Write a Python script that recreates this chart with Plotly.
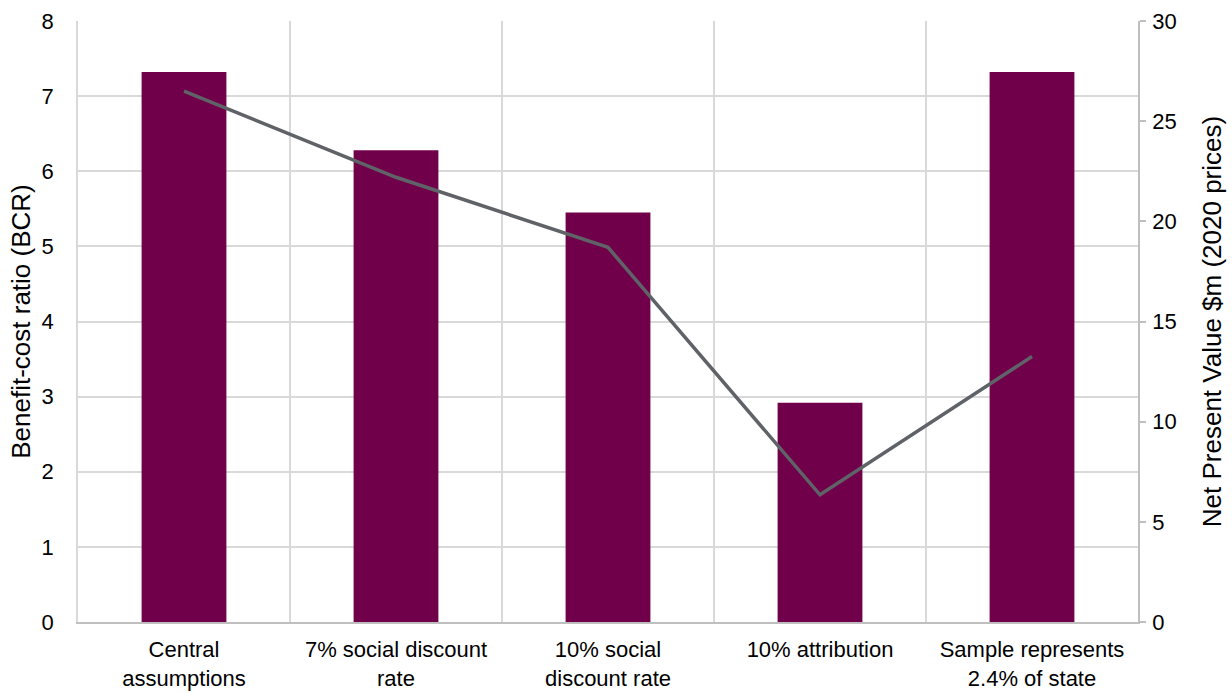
import plotly.graph_objects as go

categories = [
    "Central<br>assumptions",
    "7% social discount<br>rate",
    "10% social<br>discount rate",
    "10% attribution",
    "Sample represents<br>2.4% of state",
]
bcr_values = [7.32, 6.28, 5.45, 2.92, 7.32]
npv_values = [26.5, 22.2, 18.7, 6.35, 13.25]

font_family = "Liberation Sans, Arial, sans-serif"
tick_size = 22
title_size = 26

fig = go.Figure()
fig.add_trace(go.Bar(
    x=categories, y=bcr_values, name="BCR",
    marker=dict(color="#70004a", line=dict(width=0)),
    width=0.4, yaxis="y",
))
fig.add_trace(go.Scatter(
    x=categories, y=npv_values, name="NPV",
    mode="lines", line=dict(color="#5f6368", width=3.5),
    yaxis="y2",
))

fig.update_layout(
    width=1232, height=693,
    margin=dict(l=78, r=94, t=21, b=71),
    paper_bgcolor="white", plot_bgcolor="white",
    showlegend=False,
    font=dict(family=font_family, size=tick_size, color="#000000"),
    xaxis=dict(
        type="category", tickson="boundaries", automargin=False,
        showgrid=True, gridcolor="#d9d9d9", gridwidth=1.5,
        showline=True, linecolor="#bfbfbf", linewidth=1.5,
        ticks="", tickfont=dict(size=tick_size, color="#000000"),
        ticklabelstandoff=7,
        range=[-0.5, 4.5],
    ),
    yaxis=dict(
        range=[0, 8], dtick=1, showgrid=True, gridcolor="#d9d9d9", gridwidth=1.5,
        showline=True, linecolor="#d9d9d9", linewidth=1.5, automargin=False,
        zeroline=False, ticks="", ticklabelstandoff=18,
        tickfont=dict(size=tick_size, color="#000000"),
        title=dict(text="Benefit-cost ratio (BCR)", font=dict(size=title_size, color="#000000"), standoff=3),
    ),
    yaxis2=dict(
        range=[0, 30], dtick=5, overlaying="y", side="right", automargin=False,
        showgrid=False, zeroline=False,
        showline=True, linecolor="#bfbfbf", linewidth=1.5,
        ticks="outside", ticklen=6, tickcolor="#bfbfbf", tickwidth=1.5,
        ticklabelstandoff=2,
        tickfont=dict(size=tick_size, color="#000000"),
        title=dict(text="Net Present Value $m (2020 prices)", font=dict(size=title_size, color="#000000"), standoff=27),
    ),
)

fig.write_html("out.html")
